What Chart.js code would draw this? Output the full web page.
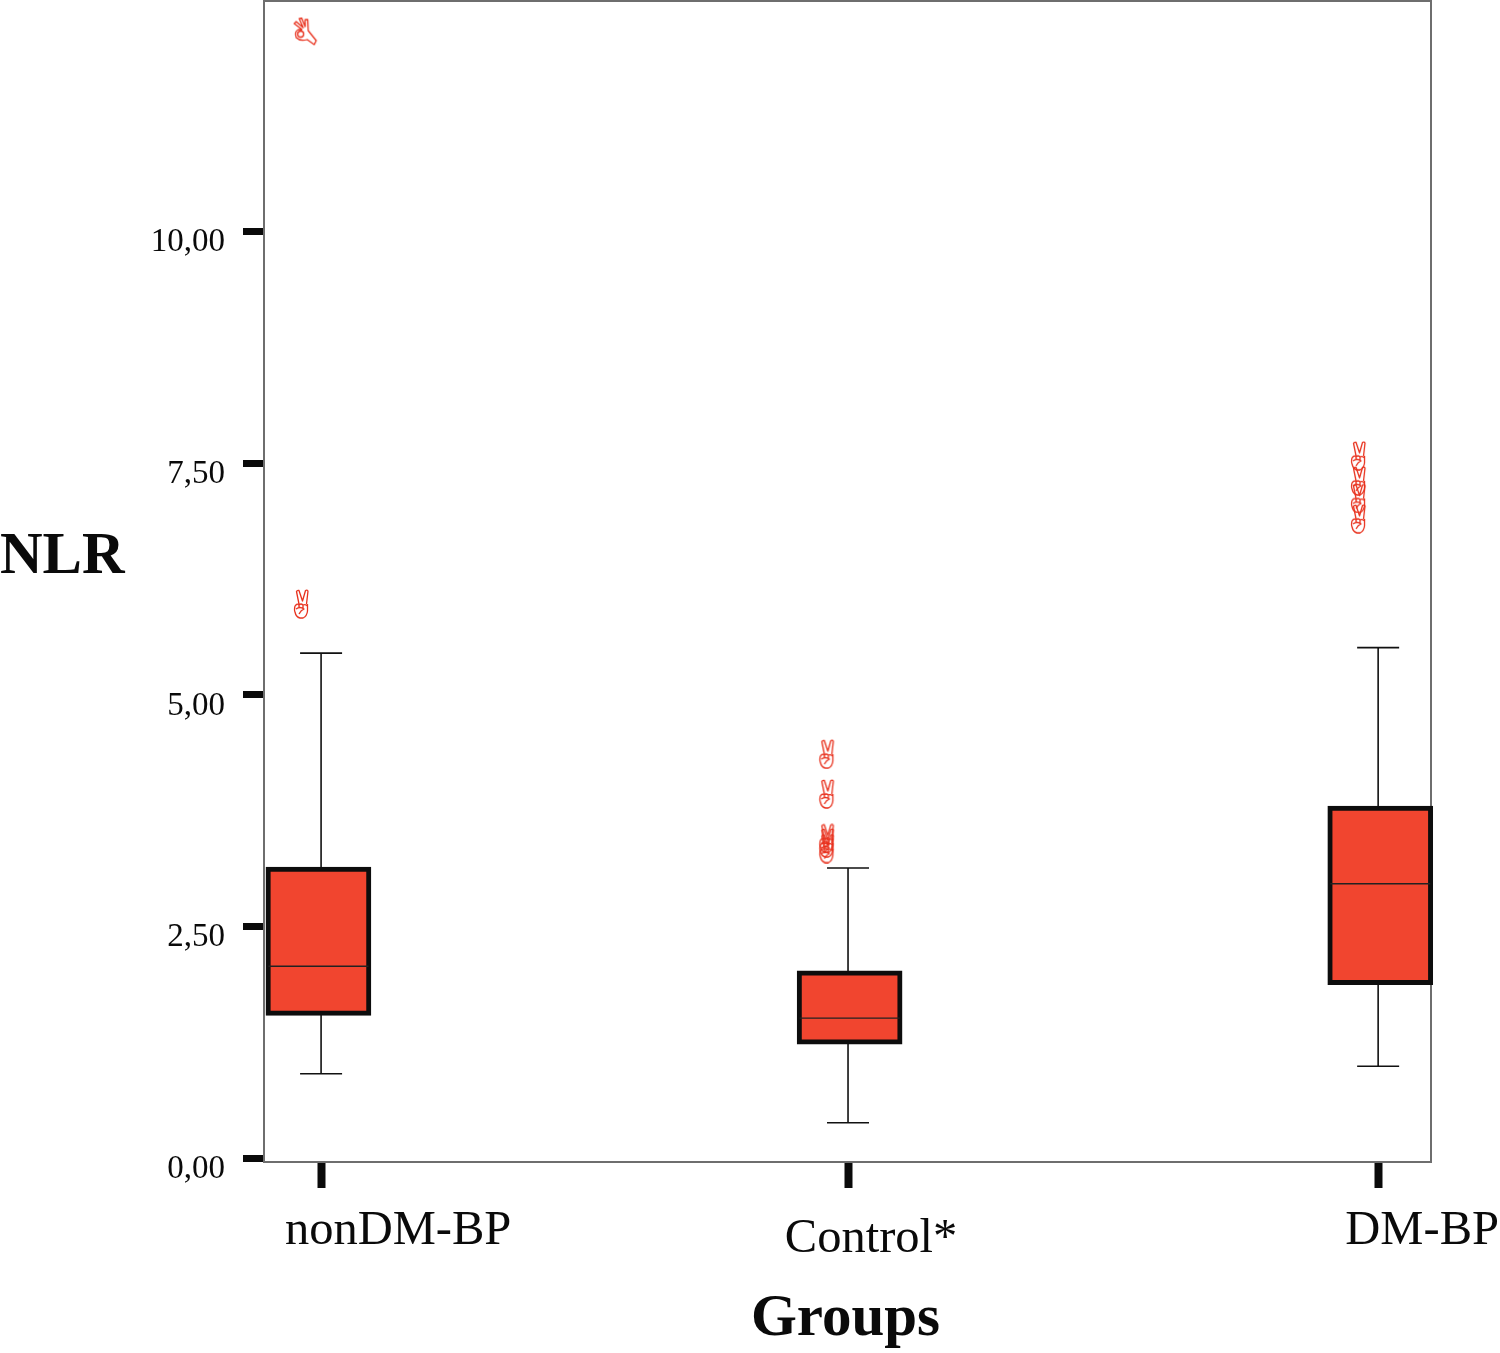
<!DOCTYPE html>
<html>
<head>
<meta charset="utf-8">
<style>
  html, body { margin: 0; padding: 0; background: #fff; }
  canvas { display: block; }
</style>
<script src="https://cdn.jsdelivr.net/npm/chart.js@4/dist/chart.umd.js"></script>
</head>
<body>
<canvas id="canvas" width="1500" height="1353"></canvas>
<script>
const categories = ["nonDM-BP", "Control*", "DM-BP"];
const yTickValues = [0, 2.5, 5, 7.5, 10];
const yTickLabels = ["0,00", "2,50", "5,00", "7,50", "10,00"];

const q1 = [1.54, 1.23, 1.87];
const medians = [2.07, 1.51, 2.96];
const q3 = [3.14, 2.02, 3.80];
const whiskerLow = [0.91, 0.38, 0.99];
const whiskerHigh = [5.45, 3.13, 5.51];

// tick and whisker positions, the boxes are not quite centred on them in the original
const groupX = [0, 0.997, 2];
const boxX = [-0.005, 1, 2.004];
// points sit left of the group position
const outlierX = [-0.038, 0.956, 0.956, 0.956, 0.956, 0.956, 1.962, 1.962, 1.962, 1.962];
const outlierValues = [5.98, 4.36, 3.93, 3.45, 3.40, 3.34, 7.58, 7.31, 7.12, 6.90];
const extremeX = [-0.03];
const extremeValues = [12.16];

const RED = "#f1452f";
const MARK_RED = "#e8301c";
const SERIF = '"Liberation Serif", serif';

// hand markers, the original figure has a symbol font here
function peaceHand() {
  const c = document.createElement("canvas");
  c.width = 20; c.height = 30;
  const g = c.getContext("2d");
  g.strokeStyle = MARK_RED; g.lineWidth = 1.3; g.lineJoin = "round";
  g.beginPath();
  g.moveTo(8, 15); g.lineTo(5.5, 2.5); g.quadraticCurveTo(6, 1, 8, 1.5); g.lineTo(11.5, 12);
  g.lineTo(14.5, 1.5); g.quadraticCurveTo(16, 0.5, 17, 2); g.lineTo(15.5, 15);
  g.moveTo(4, 17); g.quadraticCurveTo(3, 21, 4, 23); g.quadraticCurveTo(5, 28, 9, 29);
  g.lineTo(12, 29); g.quadraticCurveTo(16, 27, 16.5, 22); g.lineTo(16.5, 15);
  g.moveTo(4, 17); g.quadraticCurveTo(6, 14, 8, 16); g.quadraticCurveTo(10, 14, 12, 16); g.quadraticCurveTo(14, 15, 16.5, 17);
  g.moveTo(5, 20); g.quadraticCurveTo(9, 17, 13, 20); g.quadraticCurveTo(10, 21, 8, 25);
  g.moveTo(8, 16); g.lineTo(8, 18.5);
  g.moveTo(12, 16); g.lineTo(12, 19);
  g.stroke();
  return c;
}

function okHand() {
  const c = document.createElement("canvas");
  c.width = 26; c.height = 30;
  const g = c.getContext("2d");
  g.strokeStyle = MARK_RED; g.lineWidth = 1.3; g.lineJoin = "round";
  g.beginPath();
  g.moveTo(10, 13); g.lineTo(2, 7); g.lineTo(4, 5); g.lineTo(11, 11);
  g.lineTo(7, 2); g.lineTo(9.5, 1.5); g.lineTo(13, 10);
  g.lineTo(13, 3); g.lineTo(15.5, 3); g.lineTo(16, 14);
  g.lineTo(24, 24); g.lineTo(22, 28); g.lineTo(15, 23);
  g.quadraticCurveTo(8, 25, 4, 21); g.quadraticCurveTo(2, 15, 6, 13); g.lineTo(10, 13);
  g.moveTo(11.5, 17.5); g.arc(8.5, 17.5, 3, 0, Math.PI * 2);
  g.stroke();
  return c;
}

const boxLines = {
  id: "boxLines",
  beforeDatasetsDraw(chart) {
    const { ctx, scales: { x, y }, chartArea: a } = chart;
    ctx.save();
    ctx.strokeStyle = "#6e6e6e";
    ctx.lineWidth = 2;
    ctx.strokeRect(a.left, a.top, a.right - a.left, a.bottom - a.top);
    ctx.strokeStyle = "#111";
    ctx.lineWidth = 1.6;
    categories.forEach((c, i) => {
      const px = x.getPixelForValue(groupX[i]);
      const lo = y.getPixelForValue(whiskerLow[i]);
      const hi = y.getPixelForValue(whiskerHigh[i]);
      ctx.beginPath();
      ctx.moveTo(px, lo); ctx.lineTo(px, hi);
      ctx.moveTo(px - 21, lo); ctx.lineTo(px + 21, lo);
      ctx.moveTo(px - 21, hi); ctx.lineTo(px + 21, hi);
      ctx.stroke();
    });
    ctx.restore();
  },
  afterDatasetsDraw(chart) {
    const { ctx, scales: { x, y } } = chart;
    ctx.save();
    ctx.strokeStyle = "#222";
    ctx.lineWidth = 1.4;
    categories.forEach((c, i) => {
      const px = x.getPixelForValue(boxX[i]);
      const m = y.getPixelForValue(medians[i]);
      ctx.beginPath();
      ctx.moveTo(px - 50, m); ctx.lineTo(px + 50, m);
      ctx.stroke();
    });
    ctx.restore();
  }
};

// the labels sit off their ticks in the original, so they are placed by hand
const labelShift = [[77, 69], [23, 77], [44, 69]];
const axisText = {
  id: "axisText",
  afterDraw(chart) {
    const { ctx, scales: { x }, chartArea: a } = chart;
    ctx.save();
    ctx.fillStyle = "#0a0a0a";
    ctx.textAlign = "center";
    ctx.textBaseline = "middle";
    ctx.font = "48.5px " + SERIF;
    categories.forEach((c, i) => {
      ctx.fillText(c, x.getPixelForValue(groupX[i]) + labelShift[i][0], a.bottom + labelShift[i][1]);
    });
    ctx.font = "bold 59px " + SERIF;
    ctx.fillText("Groups", (a.left + a.right) / 2 - 2, 1320);
    ctx.textAlign = "left";
    ctx.fillText("NLR", 0, 558);
    ctx.restore();
  }
};

new Chart(document.getElementById("canvas").getContext("2d"), {
  type: "bar",
  data: {
    datasets: [
      {
        label: "NLR",
        data: categories.map((c, i) => ({ x: boxX[i], y: [q1[i], q3[i]] })),
        backgroundColor: RED,
        borderColor: "#0d0d0d",
        borderWidth: 5,
        borderSkipped: false,
        barThickness: 105,
        clip: false,
        order: 2
      },
      {
        type: "scatter",
        label: "outliers",
        data: outlierValues.map((v, i) => ({ x: outlierX[i], y: v })),
        pointStyle: peaceHand(),
        order: 1
      },
      {
        type: "scatter",
        label: "extremes",
        data: extremeValues.map((v, i) => ({ x: extremeX[i], y: v })),
        pointStyle: okHand(),
        order: 1
      }
    ]
  },
  plugins: [boxLines, axisText],
  options: {
    responsive: false,
    animation: false,
    layout: { autoPadding: false, padding: { top: 1, right: 69 } },
    plugins: { legend: { display: false }, tooltip: { enabled: false } },
    scales: {
      x: {
        type: "linear",
        offset: false,
        min: -0.108,
        max: 2.1,
        afterBuildTicks(s) { s.ticks = groupX.map(v => ({ value: v })); },
        afterFit(s) { s.height = 191; s.paddingLeft = 0; s.paddingRight = 0; },
        border: { display: false },
        grid: { offset: false, drawOnChartArea: false, tickLength: 26, tickWidth: 8, tickColor: "#0a0a0a" },
        ticks: { display: false }
      },
      y: {
        min: -0.043,
        max: 12.49,
        afterBuildTicks(s) { s.ticks = yTickValues.map(v => ({ value: v })); },
        afterFit(s) { s.width = 264; s.paddingTop = 0; s.paddingBottom = 0; },
        border: { display: false },
        grid: { drawOnChartArea: false, tickLength: 21, tickWidth: 7, tickColor: "#0a0a0a" },
        ticks: {
          padding: 18,
          labelOffset: 11,
          color: "#0a0a0a",
          font: { family: SERIF, size: 33 },
          callback: (v, i) => yTickLabels[i]
        }
      }
    }
  }
});
</script>
</body>
</html>
